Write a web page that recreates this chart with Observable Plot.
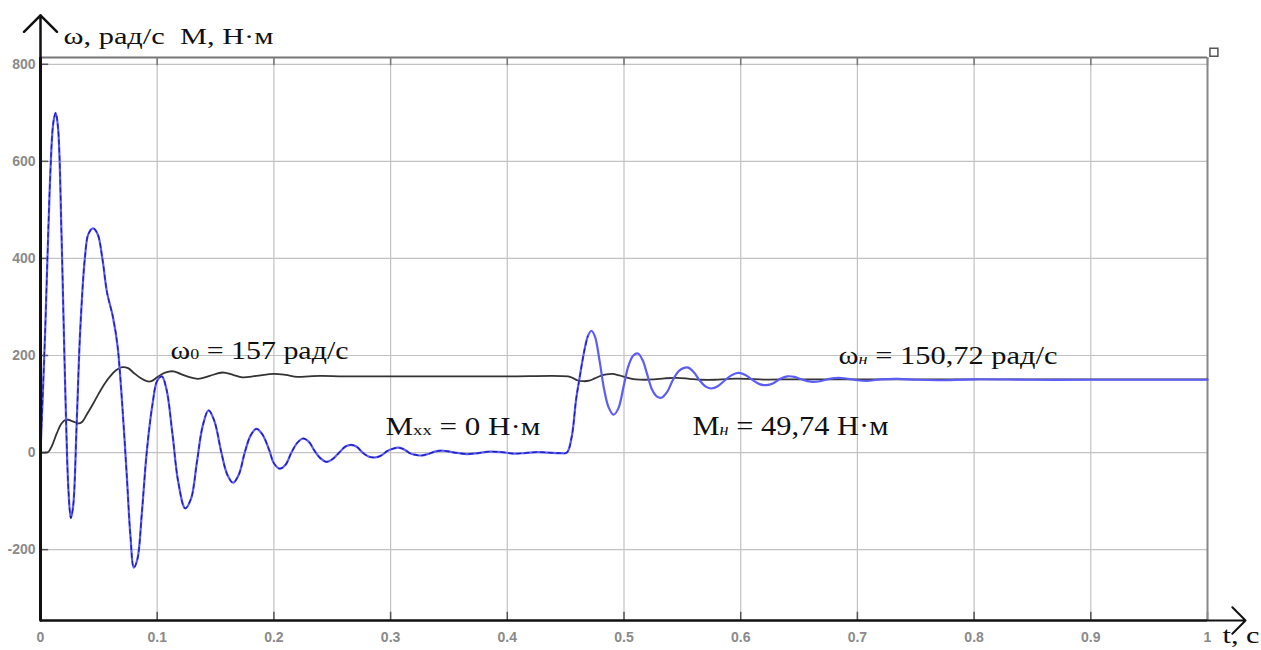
<!DOCTYPE html>
<html><head><meta charset="utf-8">
<script src="https://cdn.jsdelivr.net/npm/d3@7"></script>
<script src="https://cdn.jsdelivr.net/npm/@observablehq/plot@0.6"></script>
<style>body{margin:0;background:#fff;} svg{display:block}</style>
</head><body><div id="chart"></div>
<script>
// ---- data ----
const tM = [0,0.004,0.008,0.011,0.013,0.015,0.018,0.021,0.024,0.026,0.028,0.031,0.034,0.038,0.041,0.045,0.049,0.053,0.057,0.062,0.066,0.070,0.074,0.077,0.080,0.083,0.087,0.091,0.096,0.100,0.104,0.108,0.113,0.118,0.124,0.129,0.134,0.139,0.144,0.149,0.155,0.160,0.165,0.170,0.175,0.180,0.185,0.190,0.196,0.200,0.205,0.210,0.215,0.220,0.225,0.230,0.235,0.240,0.245,0.250,0.256,0.261,0.266,0.271,0.276,0.281,0.287,0.292,0.297,0.302,0.307,0.312,0.317,0.322,0.327,0.332,0.338,0.343,0.348,0.355,0.365,0.375,0.385,0.395,0.405,0.415,0.425,0.435,0.445,0.451,0.455,0.459,0.462,0.466,0.469,0.472,0.475,0.479,0.483,0.487,0.491,0.495,0.500,0.504,0.508,0.512,0.516,0.520,0.524,0.528,0.532,0.537,0.542,0.547,0.551,0.555,0.560,0.565,0.570,0.575,0.580,0.586,0.592,0.598,0.604,0.610,0.616,0.622,0.628,0.634,0.640,0.646,0.652,0.660,0.668,0.676,0.684,0.692,0.700,0.710,0.720,0.735,0.750,0.770,0.800,0.850,0.900,0.950,1.0];
const torque = [0,250,550,680,700,670,450,150,-80,-135,-110,60,250,400,450,462,450,400,330,280,220,100,-50,-170,-237,-220,-120,0,100,148,157,130,40,-60,-115,-95,-20,55,87,65,0,-45,-62,-45,0,35,49,38,5,-22,-33,-25,0,20,29,22,3,-12,-19,-14,0,12,16,12,0,-8,-10,-6,3,8,10,6,-2,-5,-6,-3,2,4,3,0,-3,-1,2,1,-2,-1,1,0,-1,0,30,110,155,210,240,251,240,190,130,92,78,90,140,180,200,204,190,160,130,116,113,125,150,168,174,175,165,148,136,132,136,148,159,164,160,150,141,139,143,152,157,156,151,146,147,152,154,152,149,148,151,152,150,149,151,150,150,150,150];
const tW = [0,0.004,0.007,0.010,0.014,0.018,0.022,0.026,0.030,0.033,0.036,0.040,0.045,0.050,0.055,0.060,0.065,0.070,0.075,0.080,0.086,0.091,0.095,0.100,0.105,0.110,0.115,0.120,0.127,0.135,0.145,0.156,0.165,0.173,0.185,0.200,0.210,0.220,0.230,0.240,0.260,0.300,0.350,0.400,0.452,0.456,0.460,0.465,0.470,0.475,0.480,0.485,0.490,0.496,0.502,0.510,0.518,0.526,0.535,0.545,0.556,0.566,0.578,0.590,0.605,0.620,0.650,0.700,0.800,0.900,1.0];
const speed = [0,0,2,15,40,60,68,66,62,60,64,80,100,122,142,158,170,176,174,164,153,147,147,155,163,167,167,162,156,152,158,165,160,155,158,162,160,156,157,158,157,157,157,157,157,154,149,147,148,153,158,161,162,159,155,151,150,151,153,154,152,150,150,152,152,150.5,151,150.72,150.72,150.72,150.72];
const xTicks = [0,0.1,0.2,0.3,0.4,0.5,0.6,0.7,0.8,0.9,1];
const xTickLabels = ["0","0.1","0.2","0.3","0.4","0.5","0.6","0.7","0.8","0.9","1"];
const yTicks = [-200,0,200,400,600,800];
const yTickLabels = ["-200","0","200","400","600","800"];
const axisTitle = "ω, рад/с  М, Н·м";
const timeTitle = "t, с";
// label layout (text parts: [string, subscript?, italic?])
const annotations = [
  {parts: [["ω"],["0",true],[" = 157 рад/с"]], t: 0.1114, v: 210, size: 25, width: 178},
  {parts: [["M"],["xx",true],[" = 0 Н·м"]], t: 0.2956, v: 54, size: 26, width: 155},
  {parts: [["ω"],["н",true,true],[" = 150,72 рад/с"]], t: 0.6838, v: 199, size: 26, width: 219},
  {parts: [["M"],["н",true,true],[" = 49,74 Н·м"]], t: 0.5587, v: 53, size: 27, width: 196}
];
const titleLayout = {t: 0.0197, v: 857, size: 24, width: 210};
const timeLayout = {t: 1.0129, v: -378, size: 23, width: 37};
// ---- layout ----
const yMin = -346, yMax = 814;
const torqueData = tM.map((t, i) => ({t, v: torque[i]}));
const speedData = tW.map((t, i) => ({t, v: speed[i]}));
const annData = annotations.map(a => ({...a, text: a.parts.map(p => p[0]).join("")}));
const xLabelData = xTicks.map((t, i) => ({t, label: xTickLabels[i]}));
const yLabelData = yTicks.map((v, i) => ({v, label: yTickLabels[i]}));
const serif = "'Liberation Serif', 'Times New Roman', serif";
const sans = "'Liberation Sans', Arial, sans-serif";

const chart = Plot.plot({
  width: 1261, height: 650,
  marginLeft: 40, marginRight: 54, marginTop: 57, marginBottom: 30,
  x: {domain: [0, 1], axis: null},
  y: {domain: [yMin, yMax], axis: null},
  style: {background: "white"},
  marks: [
    Plot.gridX(xTicks.slice(1, -1), {stroke: "#c2c2c2", strokeOpacity: 1, strokeWidth: 1.2}),
    Plot.gridY(yTicks, {stroke: "#c2c2c2", strokeOpacity: 1, strokeWidth: 1.2}),
    Plot.ruleX(xTicks, {y1: yMin, y2: yMin + 17, stroke: "#555", strokeWidth: 1.5}),
    Plot.ruleX(xTicks, {y1: yMax, y2: yMax - 17, stroke: "#777", strokeWidth: 1.5}),
    Plot.ruleY(yTicks, {x1: 0, x2: 0.007, stroke: "#555", strokeWidth: 1.5}),
    Plot.ruleY([yMax], {stroke: "#777", strokeWidth: 2}),
    Plot.ruleX([1], {stroke: "#888", strokeWidth: 2}),
    Plot.text(xLabelData, {x: "t", y: yMin, dy: 17, text: "label", fill: "#8a8a8a", fontSize: 14, fontWeight: "bold", fontFamily: sans}),
    Plot.text(yLabelData, {x: 0, y: "v", dx: -5, textAnchor: "end", text: "label", fill: "#8a8a8a", fontSize: 14, fontWeight: "bold", fontFamily: sans}),
    Plot.line(speedData, {x: "t", y: "v", stroke: "#333", strokeWidth: 1.8, curve: "catmull-rom"}),
    Plot.line(torqueData, {x: "t", y: "v", stroke: "#5c5cf6", strokeWidth: 2.2, curve: "catmull-rom"}),
    Plot.line(torqueData.filter(d => d.t <= 0.47), {x: "t", y: "v", stroke: "#1c1cb8", strokeWidth: 1.3, strokeDasharray: "4,4", curve: "catmull-rom"}),
    Plot.ruleY([yMin], {stroke: "#111", strokeWidth: 2}),
    Plot.ruleX([0], {stroke: "#111", strokeWidth: 3}),
    Plot.arrow([{x1: 0, y1: yMin, x2: 0, y2: 901}], {x1: "x1", y1: "y1", x2: "x2", y2: "y2", stroke: "#111", strokeWidth: 2.5, headLength: 14, headAngle: 90}),
    Plot.arrow([{x1: 0, y1: yMin, x2: 1.0326, y2: yMin}], {x1: "x1", y1: "y1", x2: "x2", y2: "y2", stroke: "#111", strokeWidth: 2, headLength: 14, headAngle: 90}),
    Plot.text([axisTitle], {x: titleLayout.t, y: titleLayout.v, text: d => d, textAnchor: "start", fontSize: titleLayout.size, fontFamily: serif, fill: "#111"}),
    Plot.text([timeTitle], {x: timeLayout.t, y: timeLayout.v, text: d => d, textAnchor: "start", fontSize: timeLayout.size, fontFamily: serif, fill: "#111"}),
    ...annData.map(a => Plot.text([a], {x: "t", y: "v", text: "text", textAnchor: "start", fontSize: a.size, fontFamily: serif, fill: "#111"})),
    Plot.dot([{x: 1.0055, y: 825}], {x: "x", y: "y", symbol: "square", r: 4.5, stroke: "#555", fill: "white", strokeWidth: 1.5})
  ]
});
// subscripts and widths
const annMap = new Map(annData.map(a => [a.text, a]));
const widthMap = new Map([[axisTitle, titleLayout.width], [timeTitle, timeLayout.width]]);
d3.select(chart).selectAll("text").each(function() {
  const s = this.textContent;
  const el = d3.select(this);
  if (widthMap.has(s)) {
    el.attr("textLength", widthMap.get(s)).attr("lengthAdjust", "spacingAndGlyphs");
    return;
  }
  const a = annMap.get(s);
  if (!a) return;
  el.text("");
  a.parts.forEach(p => {
    const ts = el.append("tspan").text(p[0]);
    if (p[1]) ts.attr("font-size", "0.6em");
    if (p[2]) ts.attr("font-style", "italic");
  });
  el.attr("textLength", a.width).attr("lengthAdjust", "spacingAndGlyphs");
});
document.getElementById("chart").appendChild(chart);
</script>
</body></html>
